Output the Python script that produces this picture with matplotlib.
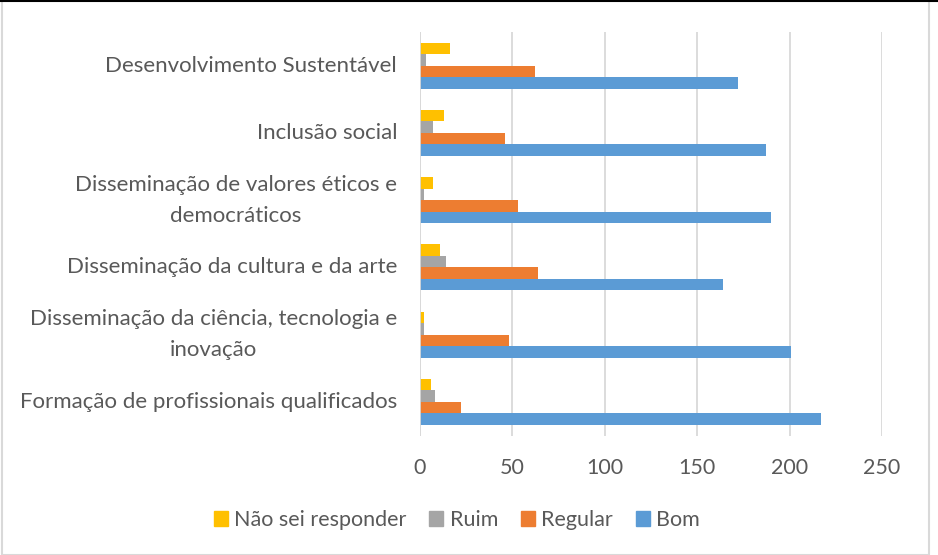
import numpy as np
import matplotlib.pyplot as plt
from matplotlib.patches import Rectangle
from matplotlib.lines import Line2D
from matplotlib.transforms import blended_transform_factory, offset_copy

plt.rcParams['font.family'] = ['Lato', 'DejaVu Sans']

categories = ['Formação de profissionais qualificados',
              'Disseminação da ciência, tecnologia e\ninovação',
              'Disseminação da cultura e da arte',
              'Disseminação de valores éticos e\ndemocráticos',
              'Inclusão social',
              'Desenvolvimento Sustentável']
bom = [217, 201, 164, 190, 187, 172]
regular = [22, 48, 64, 53, 46, 62]
ruim = [8, 2, 14, 2, 7, 3]
nao_sei = [6, 2, 11, 7, 13, 16]

series = [('Bom', bom, '#5B9BD5'),
          ('Regular', regular, '#ED7D31'),
          ('Ruim', ruim, '#A5A5A5'),
          ('Não sei responder', nao_sei, '#FFC000')]

fig = plt.figure(figsize=(9.38, 5.55), dpi=100)
ax = fig.add_axes([420/938, 1-435.5/555, 462/938, 403.5/555])

y = np.arange(len(categories))
h = 0.171
for k, (name, vals, col) in enumerate(series):
    ax.barh(y + (k - 1.5)*h, vals, height=h, color=col, label=name, zorder=3)

ax.set_xlim(0, 250)
ax.set_ylim(-0.5, len(categories) - 0.5)
ax.set_xticks(np.arange(0, 251, 50))
ax.xaxis.grid(True, color='#D9D9D9', linewidth=1.3, zorder=0)
ax.set_yticks(y)
ax.set_yticklabels([])
ax.tick_params(axis='both', length=0, colors='#595959')
ax.tick_params(axis='x', pad=16, labelsize=15.5)
for s in ax.spines.values():
    s.set_visible(False)
ax.axvline(0, color='#D9D9D9', linewidth=1.3, zorder=4)

# category labels: block right-aligned next to the axis, lines centred
base = blended_transform_factory(ax.transAxes, ax.transData)
renderer = fig.canvas.get_renderer()
line_px = 31
for yi, cat in zip(y, categories):
    lines = cat.split('\n')
    texts = [ax.text(0, yi, ln, transform=base, ha='center', va='center',
                     fontsize=16, color='#595959') for ln in lines]
    wmax = max(t.get_window_extent(renderer).width for t in texts)
    n = len(lines)
    for i, t in enumerate(texts):
        dy = ((n - 1) / 2 - i) * line_px
        t.set_transform(offset_copy(base, fig=fig, x=-23 - wmax / 2, y=dy, units='dots'))

handles = [Rectangle((0, 0), 1, 1, color=c) for _, _, c in series[::-1]]
labels = [n for n, _, _ in series[::-1]]
fig.legend(handles, labels, loc='center', bbox_to_anchor=(0.487, 1-520/555),
           ncol=4, frameon=False, fontsize=15.5, labelcolor='#595959',
           handlelength=0.65, handleheight=0.65, handletextpad=0.3, columnspacing=1.05)

fig.patches.append(Rectangle((2/938, 0), 927/938, 1, transform=fig.transFigure,
                             fill=False, edgecolor='#D9D9D9', linewidth=1.5))
fig.lines.append(Line2D([0, 1], [1-1/555, 1-1/555], transform=fig.transFigure,
                        color='black', linewidth=1.5))

fig.savefig('out.png', dpi=100)
